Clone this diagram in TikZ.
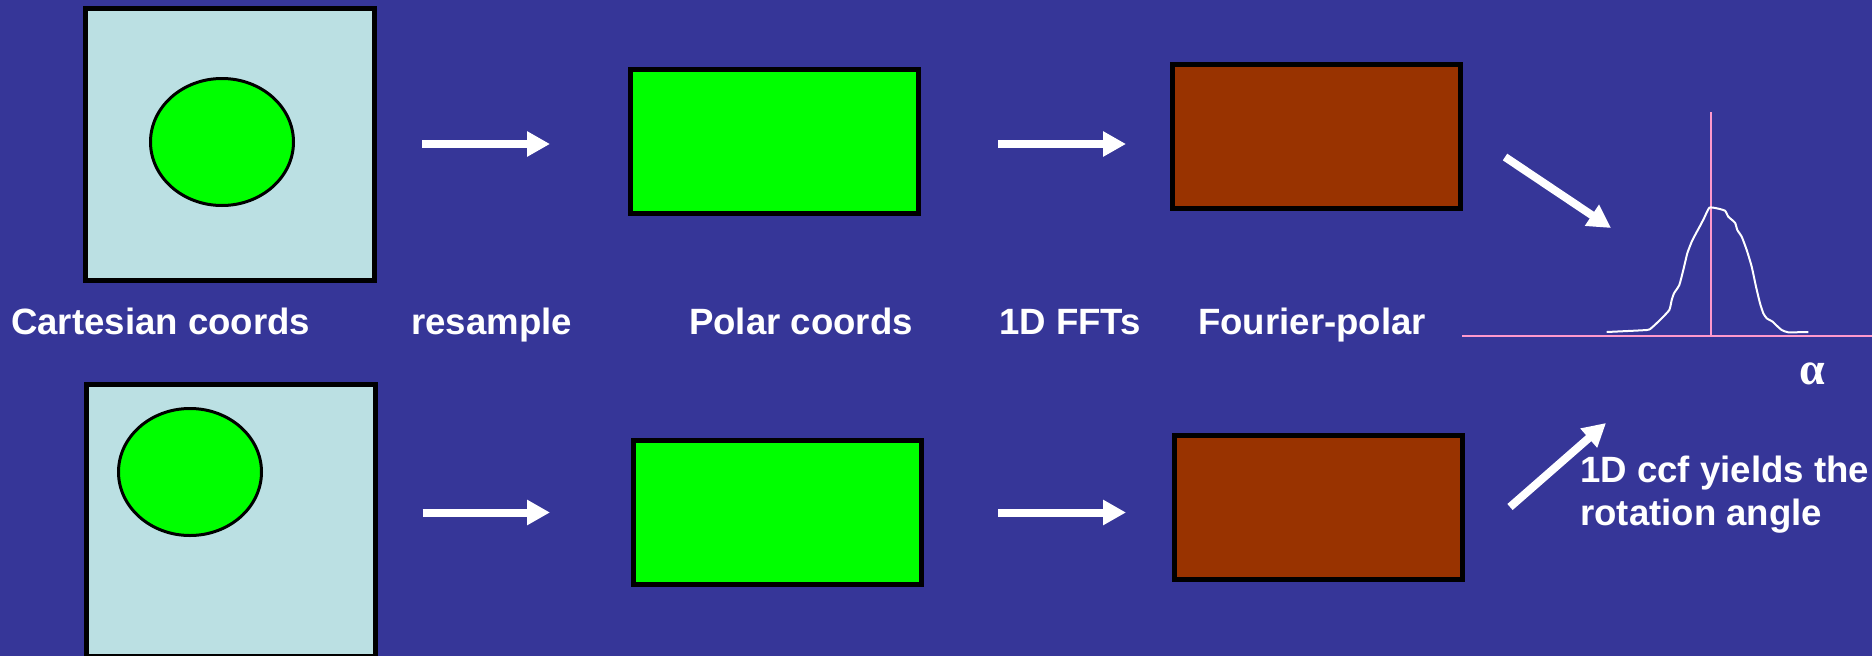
\documentclass[tikz,border=0pt]{standalone}
\usepackage{fontspec}
\setmainfont{Liberation Sans}
\newfontfamily\greekfont{Liberation Serif}
\usetikzlibrary{arrows.meta, positioning, calc, shapes.geometric}
\usepackage{xcolor}
\definecolor{slideblue}{HTML}{363698}
\definecolor{paleteal}{HTML}{BBE0E3}
\definecolor{blobgreen}{HTML}{00FF00}
\definecolor{fftbrown}{HTML}{993300}
\definecolor{axispink}{HTML}{FF99CC}

\begin{document}
\begin{tikzpicture}[
    x=1pt, y=-1pt,
    image/.style={rectangle, draw=black, fill=paleteal, line width=5pt, minimum width=289pt, minimum height=272pt, inner sep=0pt},
    blob/.style={ellipse, draw=black, fill=blobgreen, line width=3pt, minimum width=143pt, minimum height=127pt, inner sep=0pt},
    polarbox/.style={rectangle, draw=black, fill=blobgreen, line width=5pt, minimum width=288pt, minimum height=144pt, inner sep=0pt},
    fourierbox/.style={rectangle, draw=black, fill=fftbrown, line width=5pt, minimum width=288pt, minimum height=144pt, inner sep=0pt},
    caption/.style={text=white, font=\fontsize{36.6}{43}\selectfont\bfseries, inner sep=0pt, anchor=base west},
    bigarrow/.style={draw=white, line width=8pt, -{Triangle[width=24pt, length=23pt]}},
    axis/.style={draw=axispink, line width=2pt}
  ]
  \useasboundingbox (0,0) rectangle (1872,656);
  \clip (0,0) rectangle (1872,656);
  \fill[slideblue] (0,0) rectangle (1872,656);

  % upper row
  \node[image] (cart1) at (230,144.5) {};
  \node[blob] (disc1) at (222,142) {};
  \node[polarbox] (polar1) at (774.5,141.5) {};
  \node[fourierbox] (fourier1) at (1316.5,136.5) {};

  % lower row
  \node[image] (cart2) at (230.5,520.5) {};
  \node[blob] (disc2) at (190,472) {};
  \node[polarbox] (polar2) at (777.5,512.5) {};
  \node[fourierbox] (fourier2) at (1318.5,507.5) {};

  % labels
  \node[caption] (lblcart) at (11,334) {Cartesian coords};
  \node[caption] (lblresample) at (411,334) {resample};
  \node[caption] (lblpolar) at (689,334) {Polar coords};
  \node[caption] (lblfft) at (999,334) {1D FFTs};
  \node[caption] (lblfourier) at (1198,334) {Fourier-polar};
  \node[caption] (ccfa) at (1580,482) {1D ccf yields the};
  \node[caption] (ccfb) at ($(ccfa.base west)+(0,43)$) {rotation angle};

  % arrows between stages
  \draw[bigarrow] ($(cart1.east |- polar1.west)+(45,2.5)$) -- ($(polar1.west)+(-78,2.5)$);
  \draw[bigarrow] ($(polar1.east)+(77,2.5)$) -- ($(fourier1.west)+(-44,7.5)$);
  \draw[bigarrow] ($(cart2.east |- polar2.west)+(45,0)$) -- ($(polar2.west)+(-81,0)$);
  \draw[bigarrow] ($(polar2.east)+(74,0)$) -- ($(fourier2.west)+(-46,5)$);

  % correlation plot
  \coordinate (origin) at (1711,336);
  \draw[axis] (1462,336) -- (1880,336);
  \draw[axis] (1711,112) -- (origin);
  \draw[white, line width=2pt, line join=round] plot[smooth, tension=0.3] coordinates {
    (1606.7,332) (1646.7,330) (1651.7,327.7) (1660,320) (1669.3,310) (1671.7,300)
    (1674,293.3) (1679.3,285) (1683.3,270) (1687.3,253.3) (1691.7,241.7) (1696,233.3)
    (1700,226) (1704,218.3) (1709.3,207.7) (1716.7,208.3) (1725,210.7) (1728.3,216.7)
    (1735,222.7) (1737.3,230) (1741.7,236.7) (1746.7,250) (1751.7,266.7) (1756,286.7)
    (1760,303.3) (1763.3,313.3) (1766.7,318.3) (1772.7,321.7) (1776,325) (1781.7,330)
    (1788.3,332.3) (1808.3,332)};
  \node[text=white, font=\greekfont\bfseries\fontsize{46}{50}\selectfont, inner sep=0pt] (alpha) at (1812,374) {α};

  \coordinate (intail) at (1505,157);
  \coordinate (intip) at (1611,228);
  \coordinate (outtail) at (1510,507);
  \coordinate (outtip) at (1606,423);
  \draw[bigarrow] (intail) -- (intip);
  \draw[bigarrow] (outtail) -- (outtip);
\end{tikzpicture}
\end{document}
